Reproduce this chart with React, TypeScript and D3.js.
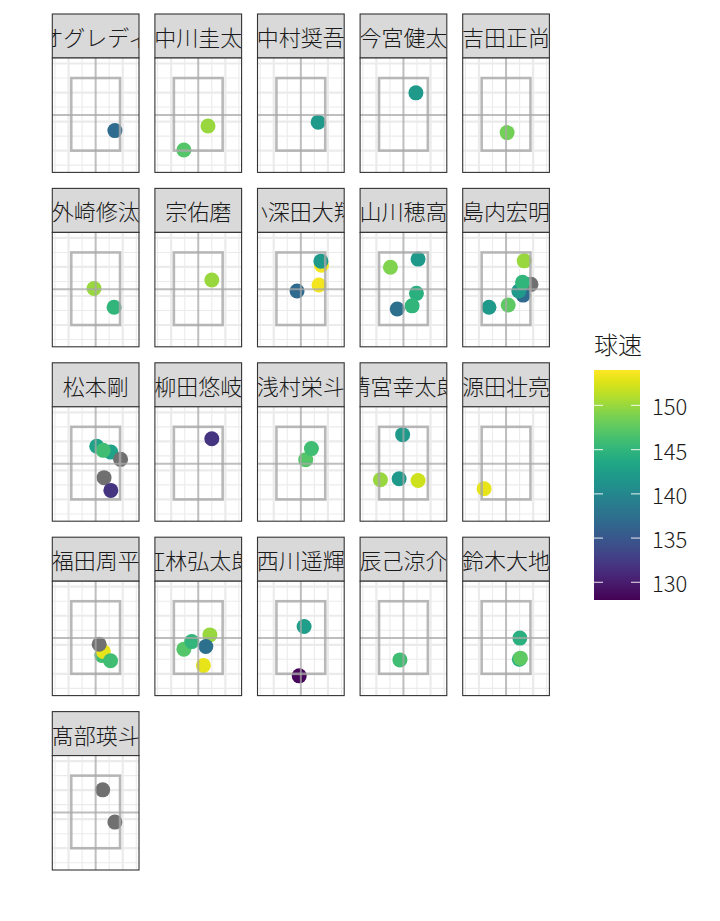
import React from "react";
import * as d3 from "d3";

const playerNames = [
  "オグレディ", "中川圭太", "中村奨吾", "今宮健太", "吉田正尚",
  "外崎修汰", "宗佑磨", "小深田大翔", "山川穂高", "島内宏明",
  "松本剛", "柳田悠岐", "浅村栄斗", "清宮幸太郎", "源田壮亮",
  "福田周平", "紅林弘太郎", "西川遥輝", "辰己涼介", "鈴木大地",
  "髙部瑛斗",
];

// pitch data: batter index, plate x, plate z, speed (null = NA)
const pitchBatter = [
  0,
  1, 1,
  2,
  3,
  4,
  5, 5,
  6,
  7, 7, 7, 7,
  8, 8, 8, 8, 8,
  9, 9, 9, 9, 9, 9, 9,
  10, 10, 10, 10, 10, 10,
  11,
  12, 12,
  13, 13, 13, 13,
  14,
  15, 15, 15, 15,
  16, 16, 16, 16, 16,
  17, 17,
  18,
  19, 19, 19,
  20, 20,
];
const pitchX = [
  0.71,
  0.36, -0.53,
  0.64,
  0.46,
  0.04,
  -0.06, 0.68,
  0.50,
  0.76, 0.74, 0.67, -0.14,
  -0.48, 0.54, 0.48, 0.32, -0.23,
  0.92, 0.63, 0.47, 0.61, 0.67, -0.63, 0.08,
  0.04, 0.56, 0.28, 0.92, 0.31, 0.56,
  0.50,
  0.18, 0.39,
  -0.03, -0.85, -0.16, 0.54,
  -0.81,
  0.23, 0.28, 0.55, 0.13,
  -0.53, -0.24, 0.43, 0.28, 0.19,
  0.12, -0.06,
  -0.13,
  0.49, 0.51, 0.53,
  0.26, 0.71,
];
const pitchZ = [
  1.69,
  1.85, 1.02,
  1.98,
  2.99,
  1.62,
  2.26, 1.61,
  2.55,
  3.06, 3.20, 2.38, 2.17,
  2.99, 3.27, 2.09, 1.66, 1.55,
  2.40, 2.03, 2.17, 2.47, 3.21, 1.61, 1.69,
  2.83, 2.63, 2.69, 2.38, 1.75, 1.31,
  3.09,
  2.37, 2.75,
  3.23, 1.68, 1.71, 1.65,
  1.37,
  1.63, 1.77, 1.45, 2.02,
  1.85, 2.11, 2.34, 1.94, 1.29,
  2.63, 0.93,
  1.48,
  1.50, 2.23, 1.54,
  3.01, 1.90,
];
const pitchSpeed: (number | null)[] = [
  137,
  150, 147,
  142,
  142,
  148.5,
  150, 145,
  150,
  153.5, 142, 153.5, 137,
  149, 142, 144.5, 145, 137.5,
  null, 137, 142, 145, 150, 142, 147.5,
  143, 143, 146, null, null, 132,
  132,
  147, 146,
  142, 150, 142, 152,
  153,
  146, 153, 146, null,
  147, 145, 150, 137.5, 153,
  142.5, 128.5,
  146,
  144, 144.5, 147.5,
  null, null,
];

const legendTicks = [130, 135, 140, 145, 150];
const speedDomain = [128, 154];
const xDomain = [-1.6, 1.6];
const zDomain = [0.25, 4.19];
const xGridMajor = [-1, 1];
const xGridMinor = [-1.5, -0.5, 0.5, 1.5];
const zGridMajor = [1, 2, 3, 4];
const zGridMinor = [0.5, 1.5, 2.5, 3.5];
const zone = { x0: -0.9, x1: 0.9, z0: 1.0, z1: 3.5 };
const centerX = 0;
const centerZ = 2.23;

const NCOL = 5;
const COL_X0 = 52.3;
const COL_STEP = 102.6;
const PW = 86.7;
const ROW_Y0 = 14;
const ROW_STEP = 174.4;
const STRIP_H = 44;
const PH = 114.4;
const FONT = "'Noto Sans CJK JP', 'Noto Sans', sans-serif";

export default function App() {
  const x = d3.scaleLinear().domain(xDomain).range([0, PW]);
  const y = d3.scaleLinear().domain(zDomain).range([PH, 0]);
  const color = d3.scaleSequential(d3.interpolateViridis).domain(speedDomain);

  const legX = 594;
  const legTop = 370;
  const legBot = 600;
  const legW = 46;
  const ly = d3.scaleLinear().domain(speedDomain).range([legBot, legTop]);
  const stops = d3.range(0, 1.0001, 0.05);

  return (
    <svg
      width={720}
      height={921}
      style={{ position: "absolute", left: 0, top: 0, background: "#fff" }}
      fontFamily={FONT}
    >
      <defs>
        <linearGradient id="vir" x1="0" y1="1" x2="0" y2="0">
          {stops.map((s, i) => (
            <stop key={i} offset={s} stopColor={d3.interpolateViridis(s)} />
          ))}
        </linearGradient>
        {playerNames.map((_, i) => {
          const c = i % NCOL;
          const r = Math.floor(i / NCOL);
          return (
            <clipPath id={`sc${i}`} key={i}>
              <rect x={COL_X0 + c * COL_STEP} y={ROW_Y0 + r * ROW_STEP} width={PW} height={STRIP_H} />
            </clipPath>
          );
        })}
      </defs>
      <rect x={0} y={0} width={720} height={921} fill="#fff" />
      {playerNames.map((name, i) => {
        const c = i % NCOL;
        const r = Math.floor(i / NCOL);
        const sx = COL_X0 + c * COL_STEP;
        const sy = ROW_Y0 + r * ROW_STEP;
        const py = sy + STRIP_H;
        const pts = pitchBatter
          .map((b, k) => ({ b, k }))
          .filter((d) => d.b === i);
        return (
          <g key={i}>
            <g clipPath={`url(#sc${i})`}>
              <rect x={sx} y={sy} width={PW} height={STRIP_H} fill="#D9D9D9" />
              <text
                x={sx + PW / 2}
                y={sy + STRIP_H / 2}
                textAnchor="middle"
                dominantBaseline="central"
                fontSize={22}
                fontWeight={300}
                fill="#1A1A1A"
              >
                {name}
              </text>
            </g>
            <rect x={sx} y={sy} width={PW} height={STRIP_H} fill="none" stroke="#333" strokeWidth={1.1} />
            <g transform={`translate(${sx},${py})`}>
              <rect x={0} y={0} width={PW} height={PH} fill="#fff" />
              {xGridMinor.map((v) => (
                <line key={"xm" + v} x1={x(v)} x2={x(v)} y1={0} y2={PH} stroke="#EBEBEB" strokeWidth={1.1} />
              ))}
              {zGridMinor.map((v) => (
                <line key={"zm" + v} x1={0} x2={PW} y1={y(v)} y2={y(v)} stroke="#EBEBEB" strokeWidth={1.1} />
              ))}
              {xGridMajor.map((v) => (
                <line key={"xM" + v} x1={x(v)} x2={x(v)} y1={0} y2={PH} stroke="#EBEBEB" strokeWidth={2.2} />
              ))}
              {zGridMajor.map((v) => (
                <line key={"zM" + v} x1={0} x2={PW} y1={y(v)} y2={y(v)} stroke="#EBEBEB" strokeWidth={2.2} />
              ))}
              {pts.map(({ k }) => {
                const s = pitchSpeed[k];
                return (
                  <circle
                    key={k}
                    cx={x(pitchX[k])}
                    cy={y(pitchZ[k])}
                    r={7.5}
                    fill={s == null ? "#707070" : color(s)}
                  />
                );
              })}
              <line x1={x(centerX)} x2={x(centerX)} y1={0} y2={PH} stroke="#A8A8A8" strokeOpacity={0.75} strokeWidth={2} />
              <line x1={0} x2={PW} y1={y(centerZ)} y2={y(centerZ)} stroke="#A8A8A8" strokeOpacity={0.75} strokeWidth={2} />
              <rect
                x={x(zone.x0)}
                y={y(zone.z1)}
                width={x(zone.x1) - x(zone.x0)}
                height={y(zone.z0) - y(zone.z1)}
                fill="none"
                stroke="#A8A8A8"
                strokeOpacity={0.8}
                strokeWidth={2.6}
              />
              <rect x={0} y={0} width={PW} height={PH} fill="none" stroke="#333" strokeWidth={1.1} />
            </g>
          </g>
        );
      })}
      <text x={legX} y={354} fontSize={24} fontWeight={300} fill="#1A1A1A">球速</text>
      <rect x={legX} y={legTop} width={legW} height={legBot - legTop} fill="url(#vir)" />
      {legendTicks.map((t) => (
        <g key={t}>
          <line x1={legX} x2={legX + 9} y1={ly(t)} y2={ly(t)} stroke="#fff" strokeOpacity={0.75} strokeWidth={1.2} />
          <line x1={legX + legW - 9} x2={legX + legW} y1={ly(t)} y2={ly(t)} stroke="#fff" strokeOpacity={0.75} strokeWidth={1.2} />
          <text x={652} y={ly(t)} dominantBaseline="central" fontSize={22} fontWeight={300} fill="#1A1A1A">
            {t}
          </text>
        </g>
      ))}
    </svg>
  );
}
